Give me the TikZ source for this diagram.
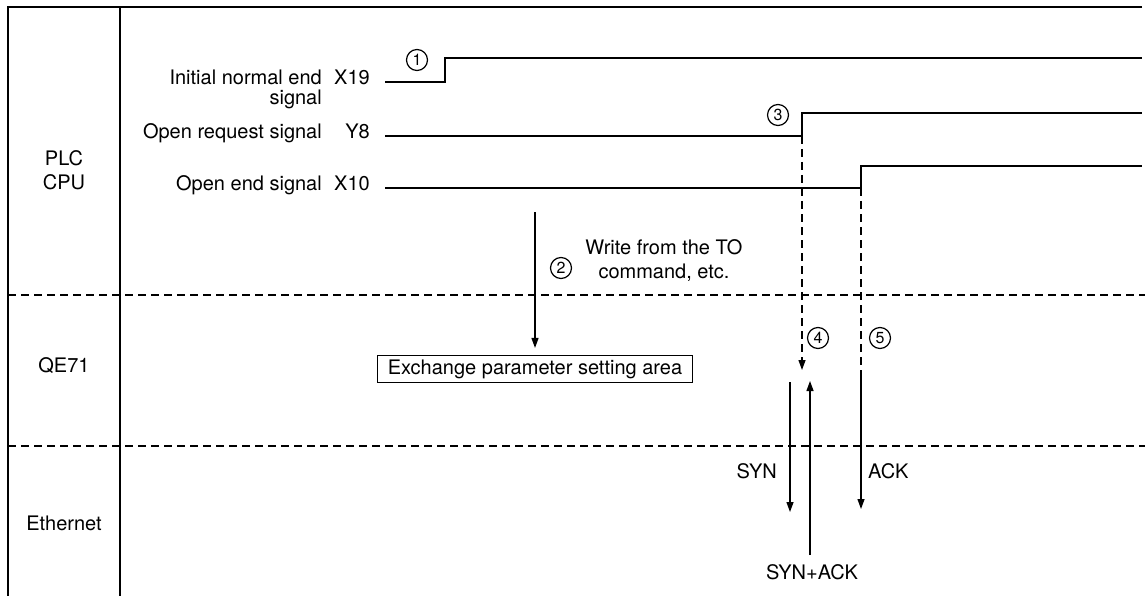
\documentclass[tikz,border=0pt]{standalone}
\usepackage{fontspec}
\setmainfont{TeX Gyre Heros}
\usetikzlibrary{arrows.meta}
\begin{document}
\begin{tikzpicture}[x=1pt,y=-1pt,
  font=\fontsize{20}{24}\selectfont,
  frameline/.style={line width=1.2pt},
  sig/.style={line width=1.6pt},
  lane/.style={line width=1.1pt, dash pattern=on 8pt off 5pt},
  arr/.style={-{Triangle[length=10pt,width=7pt]}, line width=1.3pt},
  darr/.style={-{Triangle[length=10pt,width=7pt]}, line width=1.3pt, dash pattern=on 8pt off 5pt},
  num/.style={circle, draw, line width=1.2pt, inner sep=0pt, minimum size=21pt, font=\fontsize{16}{16}\selectfont},
  lbl/.style={anchor=mid east, inner sep=0pt},
  lblw/.style={anchor=mid west, inner sep=0pt},
  areabox/.style={draw, line width=1.1pt, inner xsep=10pt, inner ysep=0pt, minimum height=27pt}
]
\useasboundingbox (0,0) rectangle (1145,596);
% frame
\draw[frameline] (1142,7) -- (8,7) -- (8,596);
\draw[frameline] (120,7) -- (120,596);
\draw[lane] (8,295) -- (1145,295);
\draw[lane] (8,446) -- (1145,446);
% lane titles
\node[align=center] (plc) at (64,170) {PLC\\CPU};
\node (qe) at (64,366) {QE71};
\node (eth) at (64,523) {Ethernet};
% signal labels
\node[lbl] (l1a) at (322,82) {Initial normal end};
\node[lbl] (l1b) at (322,102) {signal};
\node[lbl] (x19) at (370,82) {X19};
\node[lbl] (l2) at (322,136) {Open request signal};
\node[lbl] (y8) at (370,136) {Y8};
\node[lbl] (l3) at (322,188) {Open end signal};
\node[lbl] (x10) at (370,188) {X10};
% waveforms
\coordinate (x19rise) at (445,82);
\coordinate (y8rise) at (802,136);
\coordinate (x10rise) at (861,188);
\draw[sig] (385,82) -- (x19rise) -- (445,58) -- (1142,58);
\draw[sig] (385,136) -- (y8rise) -- (802,113) -- (1142,113);
\draw[sig] (385,188) -- (x10rise) -- (861,166) -- (1142,166);
% numbers
\node[num] (n1) at (417,60) {1};
\node[num] (n2) at (561,268) {2};
\node[num] (n3) at (778,115) {3};
\node[num] (n4) at (818,338) {4};
\node[num] (n5) at (880,338) {5};
% write arrow
\node[areabox] (area) at (535,369) {Exchange parameter setting area};
\coordinate (w2top) at (535,212);
\draw[arr, shorten >=7pt] (w2top) -- (area.north);
\node[align=center] (wtxt) at (664,260) {Write from the TO\\command, etc.};
% dashed arrows
\coordinate (d4end) at (802,370);
\draw[darr] (y8rise) -- (d4end);
\coordinate (d5mid) at (861,372);
\coordinate (ackend) at (861,509);
\draw[lane, line width=1.3pt] (x10rise) -- (d5mid);
\draw[arr] (d5mid) -- (ackend);
% SYN / SYN+ACK
\coordinate (syntop) at (790,382);
\coordinate (synend) at (790,512);
\draw[arr] (syntop) -- (synend);
\coordinate (sabot) at (810,555);
\coordinate (satop) at (810,381);
\draw[arr] (sabot) -- (satop);
\node[lbl] (syn) at (777,476) {SYN};
\node[lblw] (ack) at (868,476) {ACK};
\node (synack) at (812,572) {SYN+ACK};
\end{tikzpicture}
\end{document}
